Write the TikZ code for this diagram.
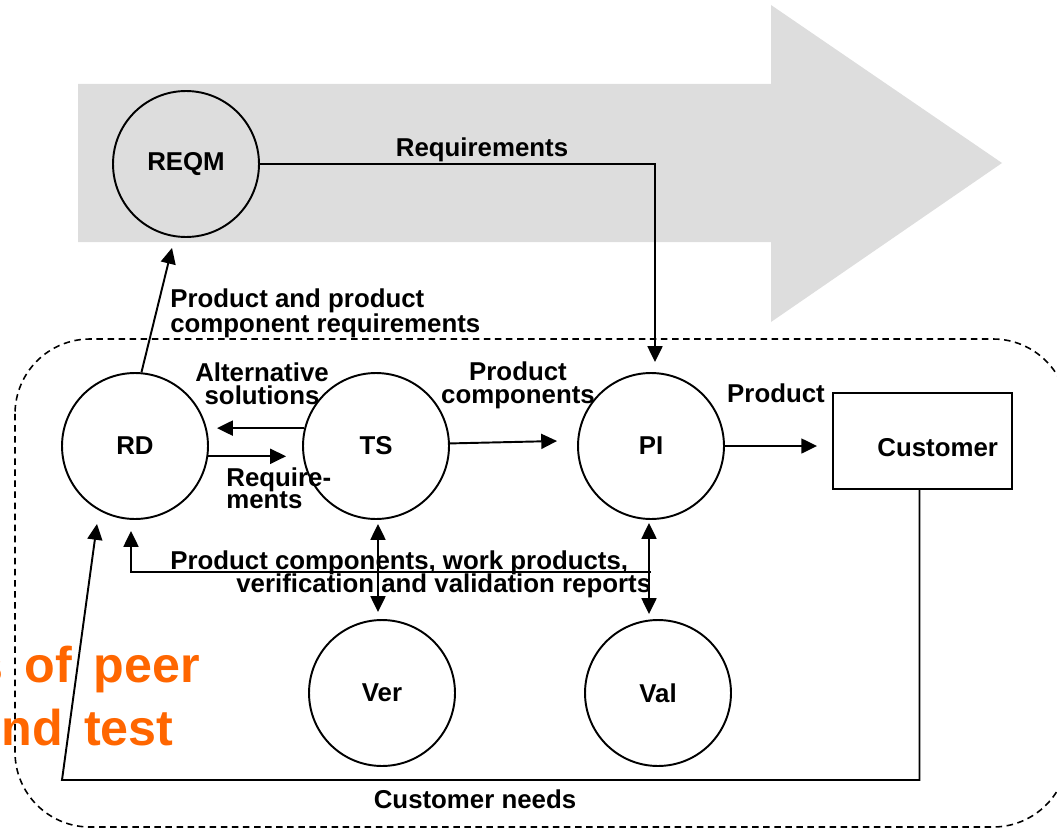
\documentclass[tikz,border=0pt]{standalone}
\usepackage{fontspec}
\setmainfont{Liberation Sans}
\usetikzlibrary{arrows.meta,calc}
\definecolor{arrowgrey}{HTML}{DDDDDD}
\definecolor{peerorange}{HTML}{FF6600}
\newcommand{\lblfont}{\fontsize{14.7}{13}\selectfont\bfseries}
\newcommand{\bigfont}{\fontsize{28.6}{30}\selectfont\bfseries\spaceskip=0.42em\relax}
\tikzset{
  proc/.style={circle, draw, line width=1.1pt, minimum size=2.92cm, inner sep=0pt, font=\lblfont},
  custbox/.style={draw, line width=1.1pt, minimum width=3.58cm, minimum height=1.92cm, text width=3.02cm, align=right, inner xsep=0.28cm, text height=17.4pt, text depth=0pt, font=\lblfont},
  lbl/.style={inner sep=0pt, font=\lblfont},
  arr/.style={line width=1.1pt, -{Triangle[length=9pt, width=8.5pt]}},
  dblarr/.style={line width=1.1pt, {Triangle[length=9pt, width=8.5pt]}-{Triangle[length=9pt, width=8.5pt]}},
  boundary/.style={line width=0.9pt, dash pattern=on 3.7pt off 2.6pt, rounded corners=1.5cm},
  bigtext/.style={inner sep=0pt, text=peerorange, font=\bigfont}
}
\begin{document}
\begin{tikzpicture}[x=0.02cm, y=-0.02cm]
\clip (0,0) rectangle (1057,828);
\useasboundingbox (0,0) rectangle (1057,828);
% big grey arrow
\fill[arrowgrey] (78,84) -- (771,84) -- (771,5) -- (1002,163) -- (771,322) -- (771,242) -- (78,242) -- cycle;
% dashed boundary
\draw[boundary] (15,339) rectangle (1068,827);
% orange partially hidden text
\node[bigtext, anchor=base east] (peer) at (200,682) {s of peer};
\node[bigtext, anchor=base east] (test) at (174,745) {nd test};
% process nodes
\node[proc] (REQM) at (186,164) {REQM};
\node[proc] (RD) at (135,446) {RD};
\node[proc] (TS) at (376,446) {TS};
\node[proc] (PI) at (651,446) {PI};
\node[proc] (Ver) at (382,693) {Ver};
\node[proc] (Val) at (658,693) {Val};
\node[custbox] (cust) at (922.5,441) {Customer};
% connectors
\draw[arr] (RD.85) -- ($(REQM.south)+(-14,10)$);
\draw[arr] (REQM.east) -| ($(PI.north)+(4,-10)$);
\draw[arr, shorten >=0.16cm] (TS.166) -- (TS.166 -| RD.east);
\draw[arr, shorten >=0.32cm] (RD.-8) -- (RD.-8 -| TS.west);
\draw[arr] (TS.2) -- ($(PI.west)+(-20,-5)$);
\draw[arr, shorten >=0.3cm] (PI.east) -- (PI.east -| cust.west);
\draw[dblarr, shorten <=0.08cm, shorten >=0.14cm] ($(TS.south)+(2,0)$) -- ($(TS.south |- Ver.north)+(2,0)$);
\draw[dblarr, shorten <=0.06cm, shorten >=0.1cm] ($(PI.south)+(-2,0)$) -- ($(PI.south |- Val.north)+(-2,0)$);
\coordinate (rep) at (651,572);
\draw[arr] (rep) -| ($(RD.south)+(-4,11)$);
\coordinate (cn) at (62,780);
\draw[arr] ($(cust.south)+(-3,0)$) |- (cn) -- ($(RD.south)+(-38,4)$);
% labels
\node[lbl] (lreq) at (482,150) {Requirements};
\node[lbl, align=left, anchor=north west] (lpcr) at (170,288) {Product and product\\component requirements};
\node[lbl, align=center] (lalt) at (262,384) {Alternative\\solutions};
\node[lbl, align=left, anchor=north west] (lrq) at (226,467) {Require-\\ments};
\node[lbl, align=center] (lpc) at (518,385) {Product\\components};
\node[lbl] (lprod) at (776,393) {Product};
\node[lbl, anchor=base west] (lrep1) at (170,569) {Product components, work products,};
\node[lbl, anchor=base west] (lrep2) at (236,592) {verification and validation reports};
\node[lbl] (lcn) at (475,799) {Customer needs};
\end{tikzpicture}
\end{document}
